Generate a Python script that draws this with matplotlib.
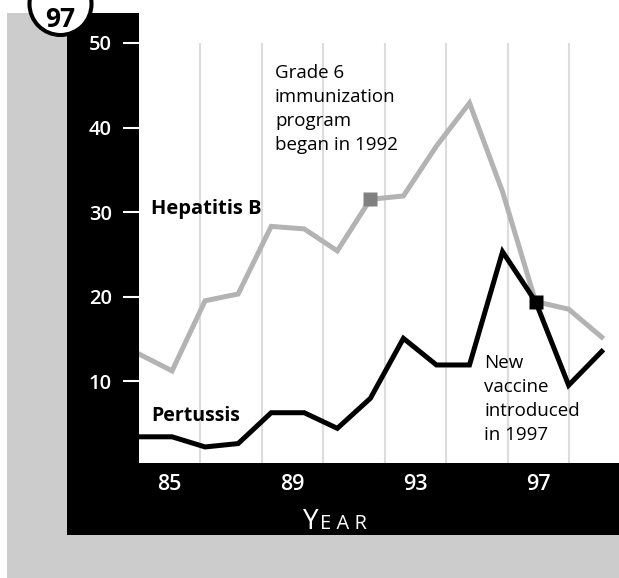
import matplotlib.pyplot as plt
from matplotlib.patches import Rectangle, Circle

# data
years = list(range(1985, 2000))
hepatitis_b = [13.2, 11.2, 19.5, 20.3, 28.3, 28.0, 25.4, 31.5, 31.9, 37.8, 42.9, 32.4, 19.4, 18.5, 15.2]
pertussis = [3.4, 3.4, 2.2, 2.6, 6.25, 6.25, 4.4, 7.95, 15.05, 11.9, 11.9, 25.3, 19.4, 9.5, 13.5]
tick_years = [85, 89, 93, 97]
grid_years = [86, 88, 90, 92, 94, 96, 98]
y_ticks = [10, 20, 30, 40, 50]
program_year = 1992
vaccine_year = 1997

W, H = 619, 578
plt.rcParams['font.family'] = ['Open Sans', 'DejaVu Sans']

fig = plt.figure(figsize=(W / 100, H / 100), dpi=100)


def fx(x):
    return x / W


def fy(y):
    return 1 - y / H


# page background blocks
fig.add_artist(Rectangle((fx(7), 0), fx(W), 1 - 13 / H, transform=fig.transFigure,
                         facecolor='#cccccc', edgecolor='none', zorder=-3))
fig.add_artist(Rectangle((fx(67), fy(535)), fx(W), (535 - 13) / H, transform=fig.transFigure,
                         facecolor='black', edgecolor='none', zorder=-2))
fig.add_artist(Rectangle((fx(139), fy(463)), fx(W), 463 / H, transform=fig.transFigure,
                         facecolor='white', edgecolor='none', zorder=-1))

ax = fig.add_axes([fx(139), fy(463), fx(W - 139), (463 - 43) / H])
ax.patch.set_visible(False)
ax.set_xlim(84, 84 + 480 / 30.72)
ax.set_ylim(0.3, 50)
for s in ax.spines.values():
    s.set_visible(False)

ax.set_yticks(y_ticks)
ax.set_yticklabels([str(v) for v in y_ticks], fontweight='semibold')
ax.tick_params(axis='y', direction='out', length=11.5, width=1.5, color='white',
               labelcolor='white', labelsize=14.5, pad=8)

ax.set_xticks(tick_years)
ax.set_xticklabels([str(t) for t in tick_years], fontweight='semibold')
ax.tick_params(axis='x', length=0, labelcolor='white', labelsize=15.5, pad=8)
ax.set_xticks(grid_years, minor=True)
ax.tick_params(which='minor', length=0)
ax.grid(which='minor', axis='x', color='#dcdcdc', lw=1.5)
ax.set_axisbelow(True)

# data drawn on its own x scale (year spacing in the print differs from the labels)
ax2 = ax.twiny()
ax2.set_xlim(1985, 1985 + 480 / 33.05)
ax2.axis('off')
ax2.plot(years, hepatitis_b, color='#b3b3b3', lw=3.6, solid_joinstyle='miter')
ax2.plot(years, pertussis, color='black', lw=3.6, solid_joinstyle='miter')
i_p = years.index(program_year)
i_v = years.index(vaccine_year)
ax2.plot([program_year], [hepatitis_b[i_p]], marker='s', ms=10, color='#808080', mec='none')
ax2.plot([vaccine_year], [pertussis[i_v]], marker='s', ms=10, color='black', mec='none')

# labels
fig.text(fx(151), fy(214), 'Hepatitis B', fontsize=14.5, fontweight='bold', va='baseline')
fig.text(fx(151), fy(421), 'Pertussis', fontsize=14, fontweight='bold', va='baseline')
fig.text(fx(275), fy(64), 'Grade 6\nimmunization\nprogram\nbegan in 1992', fontsize=13.5,
         va='top', linespacing=1.42)
fig.text(fx(484), fy(354), 'New\nvaccine\nintroduced\nin 1997', fontsize=13.5,
         va='top', linespacing=1.42)

fig.text(fx(303), fy(529), 'Y', fontsize=20, color='white', va='baseline')
fig.text(fx(320), fy(529), 'E A R', fontsize=14.5, color='white', va='baseline')

# page badge
fig.add_artist(Circle((60.5 / 100, (H - 4) / 100), 0.31, transform=fig.dpi_scale_trans,
                      facecolor='white', edgecolor='black', lw=2.9, zorder=5))
fig.text(fx(60), fy(27), '97', fontsize=19, fontweight='bold', ha='center', va='baseline', zorder=6)

fig.savefig('out.png', dpi=100)
